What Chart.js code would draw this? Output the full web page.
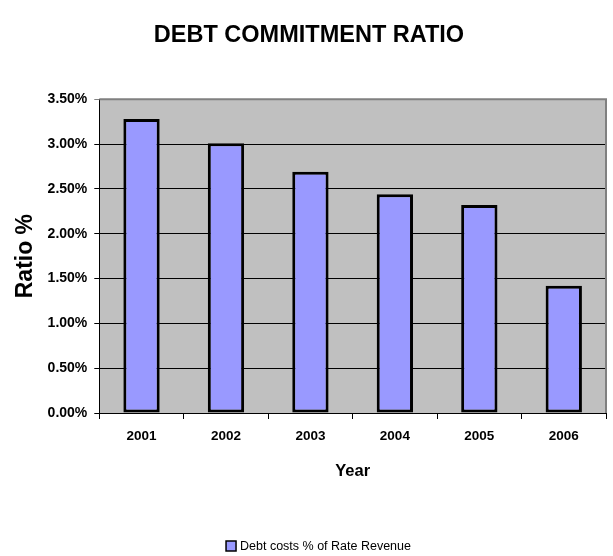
<!DOCTYPE html>
<html>
<head>
<meta charset="utf-8">
<script src="https://cdn.jsdelivr.net/npm/chart.js@4/dist/chart.umd.min.js"></script>
<style>
  html, body { margin: 0; padding: 0; background: #fff; }
  #wrap { width: 613px; height: 556px; }
</style>
</head>
<body>
<div id="wrap"><canvas id="chart" width="613" height="556"></canvas></div>
<script>
// ── Daten ─────────────────────────────────────────────────────────────
const years      = ['2001', '2002', '2003', '2004', '2005', '2006'];
const debtRatio  = [3.28, 3.01, 2.69, 2.44, 2.32, 1.42];   // in %
const seriesName = 'Debt costs % of Rate Revenue';

const FONT = '"Liberation Sans", Arial, sans-serif';
const BAR_COLOR = '#9999ff';

// Grauer Hintergrund + grauer Rahmen der Zeichenfläche (Excel-Stil)
const plotFrame = {
  id: 'plotFrame',
  beforeDraw(chart) {
    const { ctx, chartArea: a } = chart;
    ctx.save();
    ctx.fillStyle = '#c0c0c0';
    ctx.fillRect(a.left, a.top, a.right - a.left, a.bottom - a.top);
    ctx.restore();
  },
  afterDraw(chart) {
    const { ctx, chartArea: a } = chart;
    ctx.save();
    ctx.strokeStyle = '#808080';
    ctx.lineWidth = 2;
    ctx.beginPath();
    ctx.moveTo(a.left, a.top);
    ctx.lineTo(a.right, a.top);
    ctx.lineTo(a.right, a.bottom);
    ctx.stroke();
    ctx.restore();
  },
};

// Legende unten, leicht rechts von der Mitte (wie im Original)
const bottomLegend = {
  id: 'bottomLegend',
  afterDraw(chart) {
    const { ctx } = chart;
    const label = chart.data.datasets[0].label;
    ctx.save();
    ctx.font = `12.5px ${FONT}`;
    const box = 10, gap = 4;
    const total = box + gap + ctx.measureText(label).width;
    const x0 = 318.5 - total / 2, yc = 546;
    ctx.fillStyle = BAR_COLOR;
    ctx.fillRect(x0, yc - box / 2, box, box);
    ctx.strokeStyle = '#000';
    ctx.lineWidth = 1.5;
    ctx.strokeRect(x0, yc - box / 2, box, box);
    ctx.fillStyle = '#000';
    ctx.textBaseline = 'middle';
    ctx.fillText(label, x0 + box + gap, yc + 1);
    ctx.restore();
  },
};

new Chart(document.getElementById('chart'), {
  type: 'bar',
  data: {
    labels: years,
    datasets: [{
      label: seriesName,
      data: debtRatio,
      backgroundColor: BAR_COLOR,
      borderColor: '#000',
      borderWidth: 3,
      borderSkipped: false,
      barPercentage: 0.43,
      categoryPercentage: 1,
    }],
  },
  options: {
    responsive: false,
    animation: false,
    layout: { padding: { left: 12, right: 7, top: 0, bottom: 0 } },
    plugins: {
      title: {
        display: true,
        text: 'DEBT COMMITMENT RATIO',
        color: '#000',
        font: { family: FONT, size: 23.5, weight: 'bold' },
        padding: { top: 21, bottom: 50 },
      },
      legend: { display: false },
      tooltip: { enabled: false },
    },
    scales: {
      x: {
        grid: {
          offset: true,
          drawOnChartArea: false,
          color: '#000',
          tickLength: 6,
        },
        border: { color: '#000', width: 1 },
        ticks: { color: '#000', font: { family: FONT, size: 13.5, weight: 'bold' }, padding: 9 },
        title: {
          display: true,
          text: 'Year',
          color: '#000',
          font: { family: FONT, size: 16.5, weight: 'bold' },
          padding: { top: 8, bottom: 75 },
        },
      },
      y: {
        min: 0,
        max: 3.5,
        ticks: {
          stepSize: 0.5,
          color: '#000',
          font: { family: FONT, size: 14, weight: 'bold' },
          padding: 7,
          callback: v => v.toFixed(2) + '%',
        },
        grid: {
          color: c => (c.tick && c.tick.value === 3.5 ? '#808080' : '#000'),
          tickLength: 5,
        },
        border: { color: '#000', width: 1 },
        title: {
          display: true,
          text: 'Ratio %',
          color: '#000',
          font: { family: FONT, size: 23, weight: 'bold' },
          padding: { top: 0, bottom: 1 },
        },
      },
    },
  },
  plugins: [plotFrame, bottomLegend],
});
</script>
</body>
</html>
